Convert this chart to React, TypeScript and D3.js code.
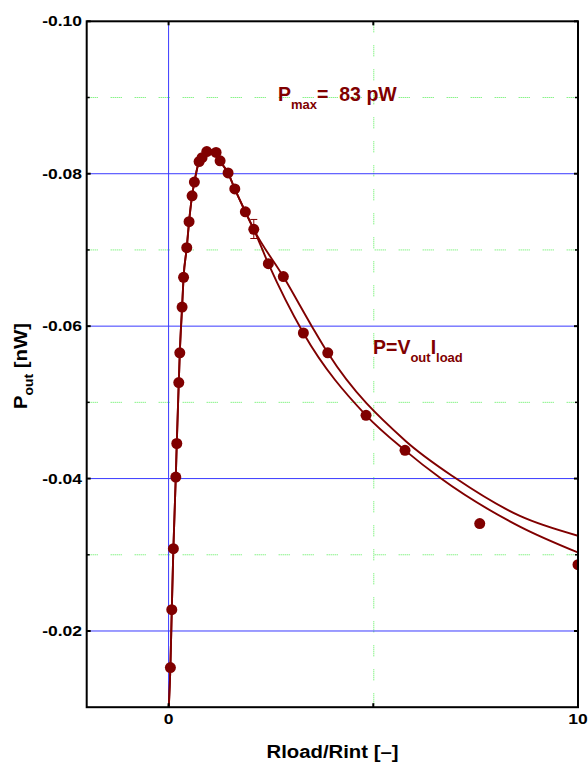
import React from "react";
import * as d3 from "d3";

// ---- data ----
const rRatio = [0.044, 0.078, 0.117, 0.176, 0.2, 0.249, 0.274, 0.33, 0.366, 0.444, 0.5, 0.574, 0.63, 0.745, 0.818, 0.933, 1.16, 1.258, 1.453, 1.617, 1.875, 2.081, 2.437, 2.803, 3.292, 3.888, 4.823, 5.775, 7.6, 10.0];
const pOut = [-0.0152, -0.0228, -0.0308, -0.0402, -0.0446, -0.0526, -0.0565, -0.0625, -0.0664, -0.0703, -0.0737, -0.0771, -0.0789, -0.0816, -0.0821, -0.0829, -0.0828, -0.0817, -0.0801, -0.078, -0.075, -0.0727, -0.0682, -0.0665, -0.0591, -0.0565, -0.0483, -0.0437, -0.0341, -0.0287];

const errX = [2.081];
const errLow = [-0.074];
const errHigh = [-0.0715];

// rising part shared by both fitted curves
const fitSharedX = [0.005, 0.044, 0.078, 0.117, 0.176, 0.2, 0.249, 0.274, 0.33, 0.366, 0.444, 0.5, 0.574, 0.63, 0.745, 0.818, 0.933, 1.05, 1.16, 1.258, 1.453, 1.617, 1.875, 2.081];
const fitSharedY = [-0.01, -0.0152, -0.0228, -0.0308, -0.0402, -0.0446, -0.0526, -0.0565, -0.0625, -0.0664, -0.0703, -0.0737, -0.0771, -0.0789, -0.0816, -0.0821, -0.0829, -0.0831, -0.0828, -0.0817, -0.0801, -0.078, -0.075, -0.0727];
// branch with the larger magnitude
const fitUpperX = [2.803, 3.497, 3.888, 5.775, 6.996, 8.58, 10.0];
const fitUpperY = [-0.0665, -0.06, -0.0565, -0.045, -0.0401, -0.0351, -0.0325];
// branch with the smaller magnitude
const fitLowerX = [2.437, 3.292, 4.823, 5.775, 6.63, 8.58, 10.0];
const fitLowerY = [-0.0682, -0.0591, -0.0483, -0.0437, -0.0401, -0.0337, -0.0303];

const xTickValues = [0, 10];
const xTickLabels = ["0", "10"];
const xMinorTicks = [5];
const yTickValues = [-0.1, -0.08, -0.06, -0.04, -0.02];
const yTickLabels = ["-0.10", "-0.08", "-0.06", "-0.04", "-0.02"];
const yMinorTicks = [-0.09, -0.07, -0.05, -0.03];

const W = 588;
const H = 762;
const L = 86.7, R = 578, T = 21.3, B = 707.2;
const RED = "#800000";
const BLUE = "#3a3aff";
const GREEN = "#55ee55";
const FONT = "'Liberation Sans', Arial, sans-serif";

export default function App() {
  const x = d3.scaleLinear().domain([-2, 10]).range([L, R]);
  const y = d3.scaleLinear().domain([-0.1, -0.01]).range([T, B]);

  const line = d3
    .line<[number, number]>()
    .x((d) => x(d[0]))
    .y((d) => y(d[1]))
    .curve(d3.curveMonotoneX);

  const shared: [number, number][] = fitSharedX.map((v, i) => [v, fitSharedY[i]]);
  const upper = shared.concat(fitUpperX.map((v, i) => [v, fitUpperY[i]] as [number, number]));
  const lower = shared.concat(fitLowerX.map((v, i) => [v, fitLowerY[i]] as [number, number]));

  const dotted = "1 1 1 1 1 1 1 1 1 1 1 13";

  return (
    <svg
      width={W}
      height={H}
      style={{ position: "fixed", left: 0, top: 0, background: "#fff" }}
      fontFamily={FONT}
    >
      <defs>
        <clipPath id="plotClip">
          <rect x={L} y={T} width={R - L} height={B - T} />
        </clipPath>
      </defs>
      <rect x={0} y={0} width={W} height={H} fill="#fff" />

      {/* minor (green dotted) grid */}
      {yMinorTicks.map((v) => (
        <line key={"gy" + v} x1={L} x2={R} y1={y(v)} y2={y(v)} stroke={GREEN} strokeWidth={1} strokeDasharray={dotted} />
      ))}
      {xMinorTicks.map((v) => (
        <line key={"gx" + v} x1={x(v) + 0.5} x2={x(v) + 0.5} y1={T} y2={B} stroke={GREEN} strokeWidth={1} strokeDasharray={dotted} />
      ))}
      {/* major (blue) grid */}
      {yTickValues.filter((v) => v > -0.1).map((v) => (
        <line key={"by" + v} x1={L} x2={R} y1={y(v)} y2={y(v)} stroke={BLUE} strokeWidth={1} />
      ))}
      {xTickValues.filter((v) => v < 10).map((v) => (
        <line key={"bx" + v} x1={x(v)} x2={x(v)} y1={T} y2={B} stroke={BLUE} strokeWidth={1} />
      ))}

      <g clipPath="url(#plotClip)">
        <path d={line(upper) || ""} fill="none" stroke={RED} strokeWidth={1.9} />
        <path d={line(lower) || ""} fill="none" stroke={RED} strokeWidth={1.9} />
        {errX.map((v, i) => (
          <g key={"e" + i} stroke={RED} strokeWidth={1}>
            <line x1={x(v)} x2={x(v)} y1={y(errLow[i])} y2={y(errHigh[i])} />
            <line x1={x(v) - 3.5} x2={x(v) + 3.5} y1={y(errLow[i])} y2={y(errLow[i])} />
            <line x1={x(v) - 3.5} x2={x(v) + 3.5} y1={y(errHigh[i])} y2={y(errHigh[i])} />
          </g>
        ))}
        {rRatio.map((v, i) => (
          <circle key={"p" + i} cx={x(v)} cy={y(pOut[i])} r={5.5} fill={RED} />
        ))}
      </g>

      {/* frame */}
      <rect x={L} y={T} width={R - L} height={B - T} fill="none" stroke="#000" strokeWidth={2} />
      {/* ticks (inward) */}
      {yTickValues.map((v) => (
        <g key={"ty" + v} stroke="#000" strokeWidth={2}>
          <line x1={L} x2={L + 4} y1={y(v)} y2={y(v)} />
          <line x1={R - 4} x2={R} y1={y(v)} y2={y(v)} />
        </g>
      ))}
      {yMinorTicks.map((v) => (
        <g key={"tym" + v} stroke="#000" strokeWidth={1.5}>
          <line x1={L} x2={L + 3} y1={y(v)} y2={y(v)} />
          <line x1={R - 3} x2={R} y1={y(v)} y2={y(v)} />
        </g>
      ))}
      {xTickValues.concat(xMinorTicks).map((v) => (
        <g key={"tx" + v} stroke="#000" strokeWidth={2}>
          <line x1={x(v)} x2={x(v)} y1={B} y2={B - 4} />
          <line x1={x(v)} x2={x(v)} y1={T} y2={T + 4} />
        </g>
      ))}

      {/* tick labels */}
      {yTickValues.map((v, i) => (
        <text
          key={"ly" + v}
          transform={`translate(82, ${y(v) + 5}) scale(1.25,1)`}
          textAnchor="end"
          fontSize={14}
          fontWeight="bold"
          fill="#000"
        >
          {yTickLabels[i]}
        </text>
      ))}
      {xTickValues.map((v, i) => (
        <text
          key={"lx" + v}
          transform={`translate(${x(v)}, 724) scale(1.25,1)`}
          textAnchor="middle"
          fontSize={14}
          fontWeight="bold"
          fill="#000"
        >
          {xTickLabels[i]}
        </text>
      ))}

      {/* axis titles */}
      <text
        transform={`translate(332.5, 757.5) scale(1.07,1)`}
        textAnchor="middle"
        fontSize={19}
        fontWeight="bold"
        fill="#000"
      >
        Rload/Rint [–]
      </text>
      <text
        transform={`translate(27, 366) rotate(-90) scale(1.07,1)`}
        textAnchor="middle"
        fontSize={19}
        fontWeight="bold"
        fill="#000"
      >
        <tspan>P</tspan>
        <tspan fontSize={13} dy={6}>out</tspan>
        <tspan dy={-6}> [nW]</tspan>
      </text>

      {/* annotations */}
      <text x={278} y={100.7} fontSize={19.5} fontWeight="bold" fill={RED} style={{ whiteSpace: "pre" }}>
        <tspan>P</tspan>
        <tspan fontSize={13} dy={8}>max</tspan>
        <tspan dy={-8}>{"=  83 pW"}</tspan>
      </text>
      <text x={373} y={354.3} fontSize={19.5} fontWeight="bold" fill={RED}>
        <tspan>P=V</tspan>
        <tspan fontSize={13} dy={8}>out</tspan>
        <tspan dy={-8}>I</tspan>
        <tspan fontSize={13} dy={8}>load</tspan>
      </text>
    </svg>
  );
}
